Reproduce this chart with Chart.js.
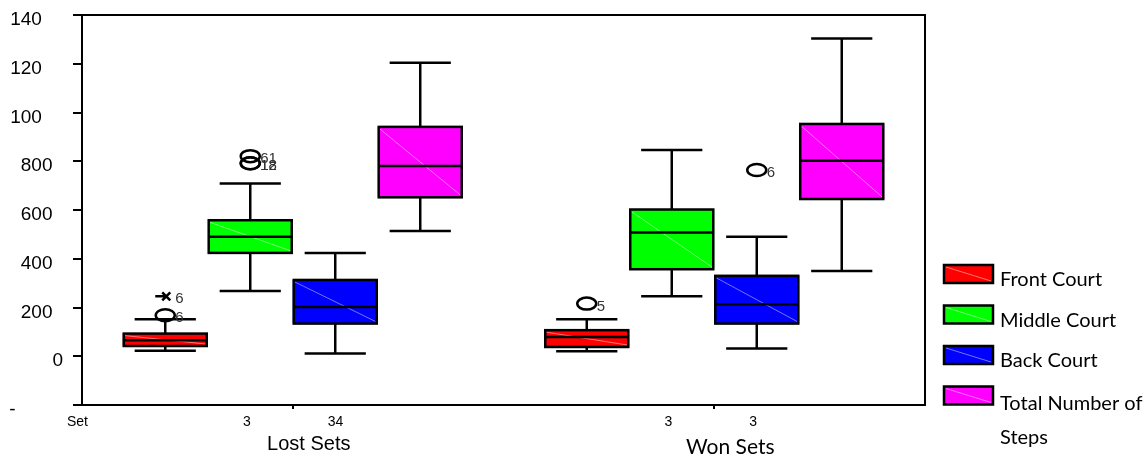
<!DOCTYPE html>
<html>
<head>
<meta charset="utf-8">
<script src="https://cdn.jsdelivr.net/npm/chart.js@4.4.1/dist/chart.umd.min.js"></script>
<style>
  html, body { margin: 0; padding: 0; background: #ffffff; }
  #wrap { width: 1145px; height: 454px; position: relative; overflow: hidden; }
  canvas { display: block; }
</style>
</head>
<body>
<div id="wrap"><canvas id="steps" width="1145" height="454"></canvas></div>
<script>
// Step counts by court zone, split by set outcome
const groups = ['Lost Sets', 'Won Sets'];
const seriesNames = ['Front Court', 'Middle Court', 'Back Court', 'Total Number of Steps'];
const seriesColors = ['#ff0000', '#00ff00', '#0000ff', '#ff00ff'];

// Box-plot summaries: one row per series, one value per group (Lost, Won)
const lowerWhisker  = [[23, 21],   [268, 246], [11, 32],   [514, 350]];
const lowerQuartile = [[42, 38],   [424, 357], [134, 134], [652, 645]];
const medianValue   = [[66, 79],   [490, 508], [202, 213], [781, 802]];
const upperQuartile = [[93, 107],  [558, 602], [313, 330], [941, 953]];
const upperWhisker  = [[152, 152], [709, 846], [424, 490], [1204, 1304]];

// Flagged cases: [series, group, value, case label, marker ('o' outlier, 'x' extreme)]
const outliers = [
  [0, 0, 168, '6', 'o'],
  [0, 0, 246, '6', 'x'],
  [1, 0, 821, '61', 'o'],
  [1, 0, 792, '12', 'o'],
  [1, 0, 792, '18', 'o'],
  [0, 1, 216, '5', 'o'],
  [2, 1, 764, '6', 'o']
];

// Axis text
const yTickLabels = ['-', '0', '200', '400', '600', '800', '100', '120', '140'];
const axisStartLabel = 'Set';
const groupSubLabels = [['3', '34'], ['3', '3']];

const ARIAL = '"Liberation Sans", Arial, sans-serif';
const CALIBRI_LIKE = 'Lato, "Noto Sans", sans-serif';

function lighten(hex, amt) {
  const n = parseInt(hex.slice(1), 16);
  const r = (n >> 16) & 255, g = (n >> 8) & 255, b = n & 255;
  const m = c => Math.round(c + (255 - c) * amt);
  return `rgb(${m(r)},${m(g)},${m(b)})`;
}

// Trailing spaces so each tick label ends where it should
const yLabelPad = [9, 0, 2, 2, 2, 2, 4, 4, 4];

const boxPlotPlugin = {
  id: 'boxPlot',
  afterDatasetsDraw(chart) {
    const ctx = chart.ctx;
    const y = chart.scales.y;
    ctx.save();
    // faint diagonal sheen inside each box, then the outline
    chart.data.datasets.forEach((ds, i) => {
      const meta = chart.getDatasetMeta(i);
      meta.data.forEach((bar, j) => {
        const { x, width } = bar.getProps(['x', 'width'], true);
        const top = y.getPixelForValue(upperQuartile[i][j]);
        const bot = y.getPixelForValue(lowerQuartile[i][j]);
        ctx.strokeStyle = lighten(seriesColors[i], 0.45);
        ctx.lineWidth = 1;
        ctx.beginPath();
        ctx.moveTo(x - width / 2 + 2, top + 2);
        ctx.lineTo(x + width / 2 - 2, bot - 2);
        ctx.stroke();
        ctx.strokeStyle = '#000';
        ctx.lineWidth = 2.5;
        ctx.strokeRect(x - width / 2 + 1, top, width - 2, bot - top);
      });
    });

    ctx.strokeStyle = '#000';
    ctx.lineWidth = 2.5;
    chart.data.datasets.forEach((ds, i) => {
      const meta = chart.getDatasetMeta(i);
      meta.data.forEach((bar, j) => {
        const { x, width } = bar.getProps(['x', 'width'], true);
        const capHalf = width * 0.36;
        const pQ1 = y.getPixelForValue(lowerQuartile[i][j]);
        const pQ3 = y.getPixelForValue(upperQuartile[i][j]);
        const pMed = y.getPixelForValue(medianValue[i][j]);
        const pLo = y.getPixelForValue(lowerWhisker[i][j]);
        const pHi = y.getPixelForValue(upperWhisker[i][j]);
        ctx.beginPath();
        // whiskers
        ctx.moveTo(x, pQ3); ctx.lineTo(x, pHi);
        ctx.moveTo(x, pQ1); ctx.lineTo(x, pLo);
        // caps
        ctx.moveTo(x - capHalf, pHi); ctx.lineTo(x + capHalf, pHi);
        ctx.moveTo(x - capHalf, pLo); ctx.lineTo(x + capHalf, pLo);
        // median
        ctx.moveTo(x - width / 2 + 1, pMed); ctx.lineTo(x + width / 2 - 1, pMed);
        ctx.stroke();
      });
    });

    // flagged cases
    outliers.forEach(([s, g, v, lab, kind]) => {
      const bar = chart.getDatasetMeta(s).data[g];
      const { x } = bar.getProps(['x'], true);
      const py = y.getPixelForValue(v);
      ctx.strokeStyle = '#000';
      ctx.lineWidth = 2.5;
      ctx.beginPath();
      if (kind === 'o') {
        ctx.ellipse(x, py, 9.5, 6, 0, 0, Math.PI * 2);
      } else {
        ctx.moveTo(x - 10, py); ctx.lineTo(x + 2, py);
        ctx.moveTo(x - 3, py - 4); ctx.lineTo(x + 5, py + 4);
        ctx.moveTo(x - 3, py + 4); ctx.lineTo(x + 5, py - 4);
      }
      ctx.stroke();
      ctx.fillStyle = '#333';
      ctx.font = '15px ' + ARIAL;
      ctx.textAlign = 'left';
      ctx.textBaseline = 'middle';
      ctx.fillText(lab, x + 10, py + 3);
    });
    ctx.restore();
  },
  afterDraw(chart) {
    const ctx = chart.ctx;
    const area = chart.chartArea;
    const xs = chart.scales.x;
    ctx.save();
    // plot frame
    ctx.strokeStyle = '#000';
    ctx.lineWidth = 2;
    ctx.strokeRect(area.left, area.top, area.right - area.left, area.bottom - area.top);

    // small labels under the axis
    ctx.fillStyle = '#000';
    ctx.font = '14px ' + ARIAL;
    ctx.textBaseline = 'middle';
    ctx.textAlign = 'right';
    ctx.fillText(axisStartLabel, area.left + 6, area.bottom + 17);
    groupSubLabels.forEach((pair, j) => {
      const px = xs.getPixelForValue(j);
      ctx.textAlign = 'right';
      ctx.fillText(pair[0], px - 42, area.bottom + 17);
      ctx.textAlign = 'left';
      ctx.fillText(pair[1], px + 35, area.bottom + 17);
    });

    // legend
    const lx = area.right + 19;
    seriesNames.forEach((name, i) => {
      const by = area.top + 250 + i * 40.5;
      ctx.fillStyle = seriesColors[i];
      ctx.fillRect(lx, by, 49, 18);
      ctx.strokeStyle = lighten(seriesColors[i], 0.45);
      ctx.lineWidth = 1;
      ctx.beginPath();
      ctx.moveTo(lx + 2, by + 2); ctx.lineTo(lx + 47, by + 16);
      ctx.stroke();
      ctx.strokeStyle = '#000';
      ctx.lineWidth = 2.5;
      ctx.strokeRect(lx, by, 49, 18);

      ctx.fillStyle = '#000';
      ctx.font = '20px ' + CALIBRI_LIKE;
      ctx.textAlign = 'left';
      ctx.textBaseline = 'middle';
      const words = name.split(' ');
      if (words.length > 3) {
        ctx.fillText(words.slice(0, 3).join(' '), lx + 56, by + 17);
        ctx.fillText(words.slice(3).join(' '), lx + 56, by + 51);
      } else {
        ctx.fillText(name, lx + 56, by + 15);
      }
    });
    ctx.restore();
  }
};

new Chart(document.getElementById('steps'), {
  type: 'bar',
  data: {
    labels: groups,
    datasets: seriesNames.map((name, i) => ({
      label: name,
      data: groups.map((g, j) => [lowerQuartile[i][j], upperQuartile[i][j]]),
      backgroundColor: seriesColors[i],
      borderColor: '#000',
      borderWidth: 0,
      borderSkipped: false,
      categoryPercentage: 0.8066,
      barPercentage: 1
    }))
  },
  options: {
    responsive: false,
    animation: false,
    layout: { padding: { top: 15, right: 220, left: 0, bottom: 0 } },
    plugins: { legend: { display: false }, tooltip: { enabled: false } },
    scales: {
      x: {
        type: 'category',
        offset: true,
        grid: { offset: false, drawOnChartArea: false, drawTicks: true, tickLength: 4, color: '#000', lineWidth: 2 },
        border: { display: true, color: '#000', width: 2 },
        ticks: {
          color: '#000',
          labelOffset: 16,
          padding: 23,
          maxRotation: 0,
          font: (c) => c.index === 0
            ? { family: ARIAL, size: 20, lineHeight: 1.2 }
            : { family: CALIBRI_LIKE, size: 21, lineHeight: 1.48 }
        },
        afterFit: (s) => { s.height = 49; s.paddingLeft = 0; s.paddingRight = 0; }
      },
      y: {
        min: -200,
        max: 1400,
        grid: { drawOnChartArea: false, drawTicks: true, tickLength: 9, color: '#000', lineWidth: 2 },
        border: { display: true, color: '#000', width: 2 },
        ticks: {
          stepSize: 200,
          color: '#000',
          padding: 10,
          labelOffset: 5,
          font: { family: ARIAL, size: 19 },
          callback: (v, i) => yTickLabels[i] + '\u00A0'.repeat(yLabelPad[i])
        },
        afterFit: (s) => { s.width = 82; s.paddingTop = 0; s.paddingBottom = 0; }
      }
    }
  },
  plugins: [boxPlotPlugin]
});
</script>
</body>
</html>
